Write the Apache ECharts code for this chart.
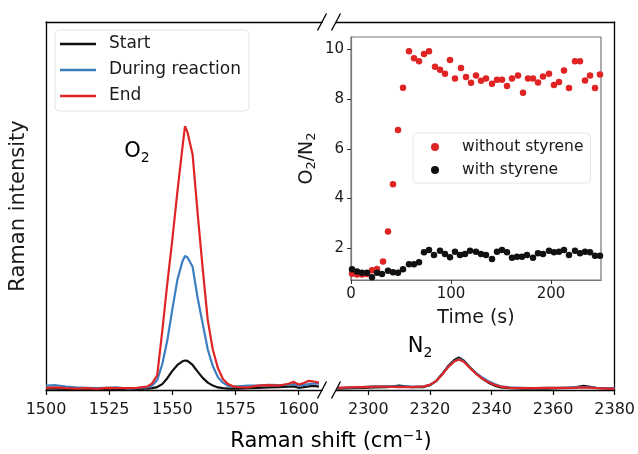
<!DOCTYPE html>
<html>
<head>
<meta charset="utf-8">
<script src="https://cdn.jsdelivr.net/npm/echarts@6/dist/echarts.min.js"></script>
<style>
  html, body { margin: 0; padding: 0; background: #fff; }
  #chart { width: 638px; height: 454px; }
</style>
</head>
<body>
<div id="chart"></div>
<script>
// O2 band region (low wavenumber panel)
const o2Shift = [1500,1504,1508,1512,1516,1520,1524,1528,1532,1536,1540,1542,1544,1546,1548,1550,1552,1554,1555,1556,1558,1560,1562,1564,1566,1568,1570,1572,1574,1576,1580,1584,1588,1592,1596,1598,1600,1602,1604,1606,1608];
const startO2 = [0.004,0.004,0.003,0.002,0.003,0.002,0.003,0.003,0.002,0.003,0.004,0.005,0.008,0.016,0.032,0.052,0.068,0.078,0.080,0.079,0.068,0.050,0.033,0.020,0.012,0.007,0.005,0.004,0.004,0.004,0.005,0.006,0.007,0.008,0.009,0.010,0.006,0.008,0.010,0.011,0.009];
const duringO2 = [0.012,0.013,0.009,0.007,0.006,0.005,0.006,0.007,0.004,0.005,0.007,0.012,0.027,0.070,0.135,0.220,0.300,0.350,0.364,0.360,0.335,0.250,0.180,0.110,0.065,0.035,0.020,0.011,0.009,0.010,0.012,0.012,0.014,0.013,0.014,0.016,0.012,0.014,0.016,0.018,0.017];
const endO2 = [0.006,0.007,0.005,0.004,0.005,0.003,0.006,0.005,0.005,0.006,0.009,0.018,0.040,0.160,0.290,0.410,0.540,0.660,0.717,0.700,0.640,0.480,0.330,0.190,0.110,0.060,0.030,0.016,0.010,0.008,0.007,0.012,0.013,0.012,0.017,0.022,0.015,0.019,0.025,0.023,0.020];

// N2 band region (high wavenumber panel)
const n2Shift = [2290,2294,2298,2302,2306,2310,2314,2318,2320,2322,2324,2326,2328,2329.5,2331,2333,2335,2337,2339,2341,2343,2346,2350,2354,2358,2362,2366,2370,2374,2378,2380];
const startN2 = [0.004,0.005,0.006,0.007,0.008,0.012,0.008,0.008,0.013,0.024,0.044,0.066,0.082,0.088,0.080,0.062,0.045,0.031,0.020,0.012,0.007,0.005,0.004,0.004,0.004,0.005,0.006,0.011,0.006,0.004,0.004];
const duringN2 = [0.005,0.007,0.008,0.010,0.010,0.009,0.009,0.010,0.014,0.024,0.043,0.064,0.079,0.084,0.078,0.061,0.046,0.034,0.024,0.016,0.010,0.007,0.006,0.005,0.006,0.006,0.007,0.008,0.006,0.005,0.005];
const endN2 = [0.006,0.007,0.008,0.009,0.009,0.008,0.008,0.010,0.014,0.024,0.042,0.063,0.078,0.083,0.077,0.060,0.044,0.031,0.021,0.014,0.009,0.006,0.005,0.005,0.006,0.006,0.006,0.007,0.005,0.004,0.004];

// O2/N2 ratio vs time
const timeWithout = [1,6,11,16,21,26,32,37,42,47,52,58,63,68,73,78,84,89,94,99,104,110,115,120,125,130,135,141,146,151,156,161,167,172,177,182,187,192,198,203,208,213,218,224,229,234,239,244,249];
const ratioWithout = [0.98,0.95,0.95,0.97,1.12,1.17,1.47,2.68,4.58,6.75,8.45,9.92,9.64,9.52,9.81,9.92,9.30,9.17,9.01,9.57,8.82,9.24,8.88,8.65,8.94,8.73,8.82,8.61,8.77,8.77,8.52,8.82,8.94,8.25,8.82,8.82,8.66,8.90,9.01,8.56,8.68,9.14,8.44,9.52,9.52,8.74,8.94,8.44,8.98];
const timeWith = [1,6,11,16,21,26,31,37,42,47,52,58,63,68,73,78,83,89,94,99,104,109,114,119,125,130,135,141,146,151,156,161,166,171,176,182,187,192,198,203,208,213,218,224,229,234,239,244,249];
const ratioWith = [1.16,1.07,1.02,1.02,0.84,1.02,0.97,1.10,1.04,1.02,1.16,1.36,1.36,1.44,1.84,1.93,1.73,1.90,1.77,1.64,1.86,1.73,1.77,1.90,1.86,1.77,1.73,1.57,1.86,1.93,1.84,1.62,1.66,1.66,1.73,1.62,1.80,1.77,1.90,1.84,1.86,1.93,1.73,1.90,1.80,1.86,1.84,1.70,1.70];

// Tick labels
const lowTicks = [1500,1525,1550,1575,1600];
const highTicks = [2300,2320,2340,2360,2380];
const timeTicks = [0,100,200];
const ratioTicks = [2,4,6,8,10];

const seriesNames = ['Start', 'During reaction', 'End'];
const lineColors = ['#111111', '#3b7fc0', '#e02424'];
const dotColors = { without: '#e02424', with: '#111111' };

const zip = (xs, ys) => xs.map((x, i) => [x, ys[i]]);
const plain = v => String(v);

const FONT = 'DejaVu Sans';
const chart = echarts.init(document.getElementById('chart'), null, { renderer: 'canvas' });

const frameAxis = (gridIndex, position, min, max) => ({
  gridIndex, position, type: 'value', min, max,
  axisLine: { show: true, onZero: false, lineStyle: { color: '#000', width: 1.3 } },
  axisTick: { show: false }, axisLabel: { show: false }, splitLine: { show: false }
});

const spectrumX = (gridIndex, min, max, ticks) => ({
  gridIndex, type: 'value', position: 'bottom', min, max,
  axisLine: { show: true, onZero: false, lineStyle: { color: '#000', width: 1.3 } },
  axisTick: { show: true, length: 5, customValues: ticks, lineStyle: { color: '#000', width: 1.2 } },
  axisLabel: { show: true, customValues: ticks, formatter: plain, margin: 12, fontSize: 16, fontFamily: FONT, color: '#1a1a1a' },
  splitLine: { show: false }
});

const lineSeries = (name, data, color, xi, yi) => ({
  type: 'line', name, data, xAxisIndex: xi, yAxisIndex: yi,
  showSymbol: false, symbol: 'none', smooth: false,
  lineStyle: { color, width: 2.2 }, itemStyle: { color }, z: 3,
  clip: true
});

const rich = {
  a: { fontSize: 21, fontFamily: FONT, color: '#111', lineHeight: 26, verticalAlign: 'middle' },
  s: { fontSize: 14, fontFamily: FONT, color: '#111', lineHeight: 12, verticalAlign: 'bottom' }
};

chart.setOption({
  animation: false,
  backgroundColor: '#fff',
  grid: [
    { left: 46, top: 22, width: 276, height: 368 },
    { left: 336, top: 22, width: 279, height: 368 },
    { left: 351, top: 37, width: 250, height: 243, show: true, backgroundColor: '#fff', borderColor: '#777', borderWidth: 1.2, z: 4 }
  ],
  xAxis: [
    spectrumX(0, 1500, 1609.2, lowTicks),
    frameAxis(0, 'top', 1500, 1609.2),
    spectrumX(1, 2289.5, 2380, highTicks),
    frameAxis(1, 'top', 2289.5, 2380),
    {
      gridIndex: 2, type: 'value', position: 'bottom', min: 0, max: 250, z: 5,
      name: 'Time (s)', nameLocation: 'middle', nameGap: 29,
      nameTextStyle: { fontSize: 19, fontFamily: FONT, color: '#1a1a1a' },
      axisLine: { show: true, onZero: false, lineStyle: { color: '#777', width: 1.2 } },
      axisTick: { show: true, length: 4, customValues: timeTicks, lineStyle: { color: '#333' } },
      axisLabel: { customValues: timeTicks, formatter: plain, margin: 7, fontSize: 15, fontFamily: FONT, color: '#1a1a1a' },
      splitLine: { show: false }
    }
  ],
  yAxis: [
    {
      gridIndex: 0, type: 'value', position: 'left', min: 0, max: 1,
      name: 'Raman intensity', nameLocation: 'middle', nameGap: 17,
      nameTextStyle: { fontSize: 21, fontFamily: FONT, color: '#1a1a1a' },
      axisLine: { show: true, onZero: false, lineStyle: { color: '#000', width: 1.3 } },
      axisTick: { show: false }, axisLabel: { show: false }, splitLine: { show: false }
    },
    {
      gridIndex: 1, type: 'value', position: 'right', min: 0, max: 1,
      axisLine: { show: true, onZero: false, lineStyle: { color: '#000', width: 1.3 } },
      axisTick: { show: false }, axisLabel: { show: false }, splitLine: { show: false }
    },
    {
      gridIndex: 2, type: 'value', position: 'left', min: 0.73, max: 10.49, z: 5,
      name: '{a|O}{s|2}{a|/N}{s|2}', nameLocation: 'middle', nameGap: 33,
      nameTextStyle: { rich: {
        a: { fontSize: 19, fontFamily: FONT, color: '#1a1a1a', lineHeight: 22, verticalAlign: 'middle' },
        s: { fontSize: 13, fontFamily: FONT, color: '#1a1a1a', lineHeight: 10, verticalAlign: 'bottom' }
      } },
      axisLine: { show: true, onZero: false, lineStyle: { color: '#777', width: 1.2 } },
      axisTick: { show: true, length: 4, customValues: ratioTicks, lineStyle: { color: '#333' } },
      axisLabel: { customValues: ratioTicks, formatter: plain, margin: 7, fontSize: 15, fontFamily: FONT, color: '#1a1a1a' },
      splitLine: { show: false }
    }
  ],
  legend: [
    {
      data: seriesNames,
      orient: 'vertical', left: 55, top: 30,
      padding: [5, 8, 6, 5], itemGap: 8,
      itemWidth: 36, itemHeight: 2.5, icon: 'rect',
      backgroundColor: '#fff', borderColor: '#e4e4e4', borderWidth: 1, borderRadius: 4,
      textStyle: { fontSize: 17, fontFamily: FONT, color: '#1a1a1a', lineHeight: 18, padding: [0, 0, 0, 8] }
    },
    {
      data: ['without styrene', 'with styrene'],
      orient: 'vertical', left: 413, top: 133,
      padding: [6, 7, 5, 18], itemGap: 7,
      itemWidth: 8, itemHeight: 8, icon: 'circle',
      backgroundColor: '#fff', borderColor: '#e4e4e4', borderWidth: 1, borderRadius: 4,
      textStyle: { fontSize: 15.5, fontFamily: FONT, color: '#1a1a1a', lineHeight: 16, padding: [0, 0, 0, 18] },
      z: 10
    }
  ],
  series: [
    lineSeries(seriesNames[0], zip(o2Shift, startO2), lineColors[0], 0, 0),
    lineSeries(seriesNames[1], zip(o2Shift, duringO2), lineColors[1], 0, 0),
    lineSeries(seriesNames[2], zip(o2Shift, endO2), lineColors[2], 0, 0),
    lineSeries(seriesNames[0], zip(n2Shift, startN2), lineColors[0], 2, 1),
    lineSeries(seriesNames[1], zip(n2Shift, duringN2), lineColors[1], 2, 1),
    lineSeries(seriesNames[2], zip(n2Shift, endN2), lineColors[2], 2, 1),
    {
      type: 'scatter', name: 'without styrene', xAxisIndex: 4, yAxisIndex: 2,
      data: zip(timeWithout, ratioWithout), symbolSize: 6.5,
      itemStyle: { color: dotColors.without, opacity: 1 }, z: 6, clip: true
    },
    {
      type: 'scatter', name: 'with styrene', xAxisIndex: 4, yAxisIndex: 2,
      data: zip(timeWith, ratioWith), symbolSize: 6.5,
      itemStyle: { color: dotColors.with, opacity: 1 }, z: 7, clip: true
    }
  ],
  graphic: [
    // axis break marks
    { type: 'line', shape: { x1: 317.5, y1: 30.5, x2: 326.5, y2: 13.5 }, style: { stroke: '#000', lineWidth: 1.3 }, z: 20 },
    { type: 'line', shape: { x1: 331.5, y1: 30.5, x2: 340.5, y2: 13.5 }, style: { stroke: '#000', lineWidth: 1.3 }, z: 20 },
    { type: 'line', shape: { x1: 317.5, y1: 398.5, x2: 326.5, y2: 381.5 }, style: { stroke: '#000', lineWidth: 1.3 }, z: 20 },
    { type: 'line', shape: { x1: 331.5, y1: 398.5, x2: 340.5, y2: 381.5 }, style: { stroke: '#000', lineWidth: 1.3 }, z: 20 },
    // band labels
    { type: 'text', x: 137, y: 152, z: 20, style: { text: '{a|O}{s|2}', rich, align: 'center', verticalAlign: 'middle' } },
    { type: 'text', x: 420, y: 347, z: 20, style: { text: '{a|N}{s|2}', rich, align: 'center', verticalAlign: 'middle' } },
    // shared x-axis title
    { type: 'text', x: 331, y: 442, z: 20, style: {
      text: '{t|Raman shift (cm}{u|−1}{t|)}', align: 'center', verticalAlign: 'middle',
      rich: {
        t: { fontSize: 21, fontFamily: FONT, color: '#1a1a1a', lineHeight: 26, verticalAlign: 'middle' },
        u: { fontSize: 14, fontFamily: FONT, color: '#1a1a1a', lineHeight: 13, verticalAlign: 'top' }
      }
    } }
  ]
});
</script>
</body>
</html>
